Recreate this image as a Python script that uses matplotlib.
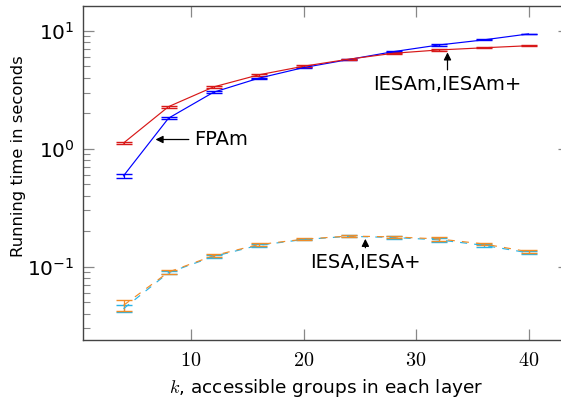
import numpy as np
import matplotlib.pyplot as plt
from matplotlib.ticker import LogLocator, FixedLocator

plt.rcParams['mathtext.fontset'] = 'cm'

k = [4, 8, 12, 16, 20, 24, 28, 32, 36, 40]

fpam = [0.59, 1.82, 3.02, 3.97, 4.89, 5.72, 6.68, 7.6, 8.4, 9.44]
fpam_err = [0.02, 0.04, 0.06, 0.06, 0.07, 0.06, 0.08, 0.08, 0.08, 0.08]

iesam = [1.12, 2.28, 3.35, 4.24, 5.02, 5.76, 6.47, 6.9, 7.2, 7.5]
iesam_err = [0.03, 0.05, 0.07, 0.07, 0.08, 0.07, 0.08, 0.08, 0.08, 0.08]

iesa = [0.044, 0.089, 0.122, 0.152, 0.170, 0.181, 0.177, 0.169, 0.152, 0.131]
iesa_err = [0.003, 0.003, 0.004, 0.004, 0.003, 0.003, 0.004, 0.006, 0.004, 0.004]

iesap = [0.047, 0.090, 0.124, 0.154, 0.171, 0.182, 0.179, 0.172, 0.156, 0.134]
iesap_err = [0.005, 0.003, 0.004, 0.004, 0.003, 0.003, 0.004, 0.006, 0.004, 0.004]

fig = plt.figure(figsize=(5.61, 4.03), dpi=100)
ax = fig.add_axes([83 / 561, 1 - 340 / 403, 486 / 561, 334 / 403])

eb = dict(capsize=5.5, capthick=1.0, elinewidth=0.9, lw=0.85)
ax.errorbar(k, fpam, yerr=fpam_err, color='#0000ff', **eb)
ax.errorbar(k, iesam, yerr=iesam_err, color='#d81818', **eb)
ax.errorbar(k, iesa, yerr=iesa_err, color='#2ab4e6', ls=(0, (6, 6)), **eb)
ax.errorbar(k, iesap, yerr=iesap_err, color='#f08c28', ls=(0, (6, 6)), **eb)

ax.set_yscale('log')
ax.set_xlim(0.4, 43.6)
ax.set_ylim(10 ** -1.622, 10 ** 1.212)

ax.xaxis.set_major_locator(FixedLocator([10, 20, 30, 40]))
ax.set_xticklabels([r'$10$', r'$20$', r'$30$', r'$40$'])
ax.yaxis.set_major_locator(LogLocator(base=10, numticks=10))
ax.yaxis.set_minor_locator(LogLocator(base=10, subs=np.arange(2, 10), numticks=10))

ax.tick_params(which='both', direction='in', top=True, right=True, color='#888888')
ax.tick_params(which='major', length=8, width=0.9, labelsize=14.5)
ax.tick_params(which='minor', length=5, width=0.8)
ax.tick_params(axis='x', which='major', pad=8)
ax.tick_params(axis='y', which='major', pad=6)
for s in ax.spines.values():
    s.set_color('#444444')
    s.set_linewidth(1.0)

ax.set_xlabel(r'$k$, accessible groups in each layer', fontsize=13.3, labelpad=5)
ax.set_ylabel('Running time in seconds', fontsize=11.8)
ax.yaxis.set_label_coords(-0.117, 0.55)

arrow = dict(arrowstyle='-|>', color='black', lw=0.9, mutation_scale=11)
ax.annotate('FPAm', xy=(6.6, 1.2), xytext=(10.3, 1.2), fontsize=14,
            va='center', ha='left', arrowprops=arrow)
ax.annotate('IESAm,IESAm+', xy=(32.8, 6.95), xytext=(32.8, 4.2), fontsize=14,
            va='top', ha='center', arrowprops=arrow)
ax.annotate('IESA,IESA+', xy=(25.5, 0.182), xytext=(25.5, 0.13), fontsize=14,
            va='top', ha='center', arrowprops=arrow)

fig.savefig('out.png', dpi=100)
